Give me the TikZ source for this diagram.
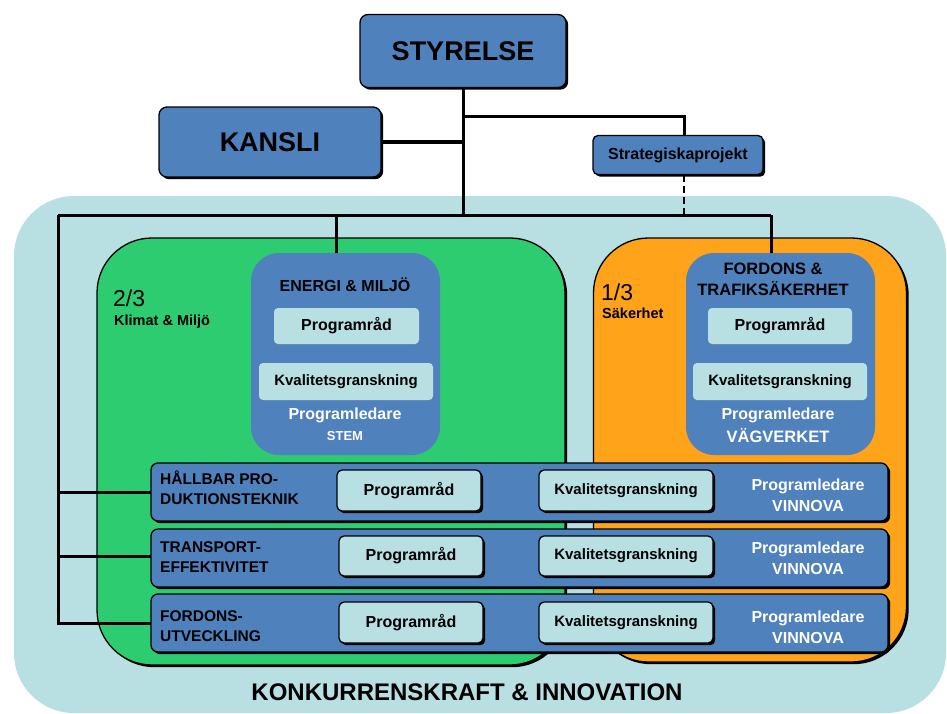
\documentclass[tikz,border=0pt]{standalone}
\usepackage{fontspec}
\setmainfont{Liberation Sans}
\usetikzlibrary{shadows}
\definecolor{boxblue}{RGB}{79,129,189}
\definecolor{paleblue}{RGB}{184,223,226}
\definecolor{leafgreen}{RGB}{46,204,113}
\definecolor{amber}{RGB}{255,163,26}
\newcommand{\fsz}[1]{\fontsize{#1}{1.3\dimexpr#1pt\relax}\selectfont\bfseries}
\tikzset{
  boxshadow/.style={drop shadow={shadow xshift=2.2pt,shadow yshift=-2.2pt,opacity=1,fill=black}},
  group/.style={draw=black,line width=1.3pt,rounded corners=55pt,boxshadow,inner sep=0pt},
  headbox/.style={draw=black,line width=1.3pt,fill=boxblue,rounded corners=8pt,boxshadow,inner sep=0pt},
  area/.style={fill=boxblue,rounded corners=28pt,inner sep=0pt,minimum width=189pt,minimum height=202pt},
  innerbox/.style={fill=paleblue,rounded corners=4pt,inner sep=0pt,minimum height=36pt},
  rowbox/.style={draw=black,line width=1.3pt,fill=boxblue,rounded corners=7pt,boxshadow,inner sep=0pt,minimum width=737pt,minimum height=58pt},
  cellbox/.style={draw=black,line width=1.3pt,fill=paleblue,rounded corners=5pt,boxshadow,inner sep=0pt,minimum height=40pt},
  link/.style={line width=3pt},
  lead/.style={text=white,align=center,inner sep=0pt},
  rowtitle/.style={anchor=west,align=left,inner sep=0pt,font=\fsz{15.5}}
}
\begin{document}
\begin{tikzpicture}[x=1pt,y=-1pt]
  \useasboundingbox (0,0) rectangle (947,713);
  \fill[paleblue,rounded corners=60pt] (14,196) rectangle (946,713);
  \node[group,fill=leafgreen,minimum width=468pt,minimum height=427pt] (klimat) at (331,451.5) {};
  \node[group,fill=amber,minimum width=313pt,minimum height=424pt] (saker) at (750,450) {};
  \node[anchor=west,inner sep=0pt,font=\fontsize{23}{26}\selectfont] (klimatshare) at (113,298) {2/3};
  \node[anchor=west,inner sep=0pt,font=\fsz{14.5}] (klimatname) at (114,322) {Klimat \& Miljö};
  \node[anchor=west,inner sep=0pt,font=\fontsize{23}{26}\selectfont] (sakershare) at (601,292) {1/3};
  \node[anchor=west,inner sep=0pt,font=\fsz{14.5}] (sakername) at (602,313) {Säkerhet};

  % top of the tree
  \node[headbox,minimum width=206pt,minimum height=73pt,font=\fsz{27}] (styrelse) at (463,51) {STYRELSE};
  \node[headbox,minimum width=222pt,minimum height=70pt,font=\fsz{27}] (kansli) at (270,142) {KANSLI};
  \node[headbox,rounded corners=5pt,minimum width=170pt,minimum height=39pt,font=\fsz{16}] (strat) at (678,155) {Strategiskaprojekt};
  \coordinate (fork) at (463,116);
  \coordinate (hub) at (463,215);
  \coordinate (west) at (58,215);
  \coordinate (east) at (771,215);
  \draw[link] (styrelse.south) -- (hub);
  \draw[line width=4.5pt] (kansli.east) -- (kansli.east -| hub);
  \draw[link] (fork) -| ([xshift=6pt]strat.north);
  \draw[line width=1.8pt,dash pattern=on 7pt off 4pt] ([xshift=6pt]strat.south) -- ([xshift=6pt]strat.south |- hub);
  \draw[link] (west) -- (east);

  % programme areas
  \node[area] (energi) at (345.5,354) {};
  \node[area] (fordon) at (780.5,354) {};
  \draw[link] ([xshift=-9.5pt]energi.north |- hub) -- ([xshift=-9.5pt]energi.north);
  \draw[link] (east) -- (east |- fordon.north);
  \node[inner sep=0pt,font=\fsz{16}] (energititle) at (345,285) {ENERGI \& MILJÖ};
  \node[innerbox,minimum width=145pt,font=\fsz{16}] (energiprog) at (346.5,326) {Programråd};
  \node[innerbox,minimum width=174pt,minimum height=37pt,font=\fsz{15}] (energikval) at (346,381.5) {Kvalitetsgranskning};
  \node[lead,font=\fsz{16}] (energilead) at (345,415) {Programledare};
  \node[lead,font=\fsz{13}] (energistem) at (345,436) {STEM};
  \node[inner sep=0pt,align=center,font=\fontsize{16.5}{21}\selectfont\bfseries] (fordontitle) at (773,279) {FORDONS \&\\TRAFIKSÄKERHET};
  \node[innerbox,minimum width=144pt,font=\fsz{16}] (fordonprog) at (780,326) {Programråd};
  \node[innerbox,minimum width=174pt,minimum height=37pt,font=\fsz{15}] (fordonkval) at (780,381.5) {Kvalitetsgranskning};
  \node[lead,font=\fsz{16}] (fordonlead) at (778,415) {Programledare};
  \node[lead,font=\fsz{16.5}] (fordonverk) at (778,436) {VÄGVERKET};

  % rows
  \draw[link] (west) |- (519.5,623);
  \draw[link] (west |- 0,492) -- (151,492);
  \draw[link] (west |- 0,556) -- (151,556);
  \node[rowbox] (row1) at (519.5,492) {};
  \node[rowbox] (row2) at (519.5,558) {};
  \node[rowbox] (row3) at (519.5,623) {};
  \node[rowtitle] (row1title) at (160,488) {HÅLLBAR PRO-\\DUKTIONSTEKNIK};
  \node[rowtitle] (row2title) at (160,557) {TRANSPORT-\\EFFEKTIVITET};
  \node[rowtitle] (row3title) at (160,626) {FORDONS-\\UTVECKLING};
  \node[cellbox,minimum width=144pt,minimum height=41pt,font=\fsz{16}] (row1prog) at (409,490.5) {Programråd};
  \node[cellbox,minimum width=144pt,font=\fsz{16}] (row2prog) at (411,556) {Programråd};
  \node[cellbox,minimum width=144pt,minimum height=41pt,font=\fsz{16}] (row3prog) at (411,622.5) {Programråd};
  \node[cellbox,minimum width=174pt,minimum height=41pt,font=\fsz{15}] (row1kval) at (626,490.5) {Kvalitetsgranskning};
  \node[cellbox,minimum width=174pt,font=\fsz{15}] (row2kval) at (626,556) {Kvalitetsgranskning};
  \node[cellbox,minimum width=174pt,minimum height=41pt,font=\fsz{15}] (row3kval) at (626,622.5) {Kvalitetsgranskning};
  \node[lead,font=\fontsize{16}{21}\selectfont\bfseries] (row1lead) at (808,495.5) {Programledare\\VINNOVA};
  \node[lead,font=\fontsize{16}{21}\selectfont\bfseries] (row2lead) at (808,558) {Programledare\\VINNOVA};
  \node[lead,font=\fontsize{16}{21}\selectfont\bfseries] (row3lead) at (808,627) {Programledare\\VINNOVA};

  \node[inner sep=0pt,font=\fsz{24}] (konkurrens) at (467,692) {KONKURRENSKRAFT \& INNOVATION};
\end{tikzpicture}
\end{document}
